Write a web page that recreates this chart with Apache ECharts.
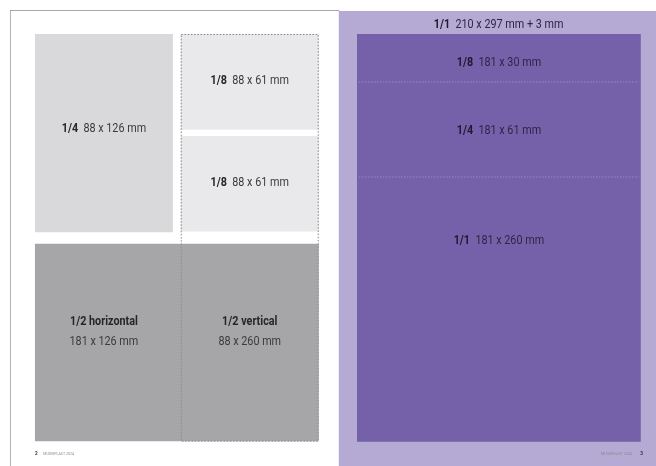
<!DOCTYPE html>
<html>
<head>
<meta charset="utf-8">
<script src="https://cdn.jsdelivr.net/npm/echarts@6/dist/echarts.min.js"></script>
<style>html,body{margin:0;padding:0;background:#fff}#c{width:656px;height:466px}</style>
</head>
<body>
<div id="c"></div>
<script>
// ---- DATA (millimetres; origin = top-left corner of the left-hand page) ----
const pageNames = ['Vasen sivu', 'Oikea sivu'];
const pageX = [0, 209.7];
const pageY = [0, 0.6];
const pageW = [210, 216];
const pageH = [297, 303];

const adLabel = ['1/4', '1/8', '1/8', '1/2 horizontal', '1/2 vertical', '1/1', '1/1', '1/8', '1/4'];
const adSize  = ['88 x 126 mm', '88 x 61 mm', '88 x 61 mm', '181 x 126 mm', '88 x 260 mm',
                 '210 x 297 mm + 3 mm', '181 x 260 mm', '181 x 30 mm', '181 x 61 mm'];
const adX = [15.9, 108.9, 108.9, 15.9, 108.9, 209.7, 221.3, 221.3, 221.3];
const adY = [15.3, 15.3, 80.3, 149.0, 15.3, 0.6, 15.3, 15.3, 45.9];
const adW = [88, 88, 88, 181, 88, 216, 181, 181, 181];
const adH = [126.5, 61, 61, 126, 260, 303, 260, 30.6, 60.6];
// label anchor points (mm)
const labelX = [59.9, 152.9, 152.9, 59.9, 152.9, 311.6, 311.8, 311.8, 311.8];
const labelY = [75.9, 44.8, 109.9, 205.4, 205.4, 9.4, 147.3, 33.5, 76.8];

const footerPage = ['2', '3'];
const footerName = 'MUOVIPLAST 2024';
const footerX = [15.9, 403.7];
const footerY = [283.2, 283.2];

// ---- STYLES (kept apart from the data) ----
const pageLooks = [
  { fill: '#ffffff', stroke: '#8c8c8c' },
  { fill: '#b5aad4', stroke: null }
];
const adLooks = [
  { kind: 'fill', fill: '#d9d9db' },
  { kind: 'fill', fill: '#e9e9eb' },
  { kind: 'fill', fill: '#e9e9eb' },
  { kind: 'fill', fill: '#a6a6a9', twoLine: true },
  { kind: 'dotted', stroke: '#8a8a8a', twoLine: true },
  { kind: 'none', purple: true },
  { kind: 'fill', fill: '#7561a9', purple: true },
  { kind: 'bottomDotted', stroke: '#a193d6', purple: true },
  { kind: 'bottomDotted', stroke: '#a193d6', purple: true }
];

const FONT = 'Roboto, "Noto Sans", sans-serif';
const SQUEEZE = 0.8;

const chart = echarts.init(document.getElementById('c'), null, { renderer: 'canvas' });

function rectOf(api) {
  const p0 = api.coord([api.value(0), api.value(1)]);
  const p1 = api.coord([api.value(0) + api.value(2), api.value(1) + api.value(3)]);
  return { x: p0[0], y: p0[1], width: p1[0] - p0[0], height: p1[1] - p0[1] };
}

const pageData = pageNames.map((n, i) => ({ name: n, value: [pageX[i], pageY[i], pageW[i], pageH[i]] }));
const adData = adLabel.map((n, i) => ({ name: n, value: [adX[i], adY[i], adW[i], adH[i]] }));
const labelData = adLabel.map((n, i) => ({ name: n, value: [labelX[i], labelY[i]] }));
const footerData = footerPage.map((n, i) => ({ name: n, value: [footerX[i], footerY[i]] }));

chart.setOption({
  animation: false,
  backgroundColor: '#ffffff',
  grid: { left: 10, top: 10, width: 646, height: 456, show: false },
  xAxis: { type: 'value', min: 0, max: 412, show: false },
  yAxis: { type: 'value', min: 0, max: 290.8, inverse: true, show: false },
  series: [
    {
      type: 'custom', name: 'sivut', clip: true, silent: true,
      data: pageData,
      renderItem: function (params, api) {
        const r = rectOf(api);
        const lk = pageLooks[params.dataIndex];
        const children = [{ type: 'rect', shape: r, style: { fill: lk.fill } }];
        if (lk.stroke) {
          children.push({
            type: 'polyline',
            shape: { points: [[r.x, r.y + r.height], [r.x, r.y], [r.x + r.width, r.y]] },
            style: { fill: null, stroke: lk.stroke, lineWidth: 1.3 }
          });
        }
        return { type: 'group', children: children };
      }
    },
    {
      type: 'custom', name: 'ilmoitukset', clip: true, silent: true,
      data: adData,
      renderItem: function (params, api) {
        const r = rectOf(api);
        const lk = adLooks[params.dataIndex];
        if (lk.kind === 'fill') {
          return { type: 'rect', shape: r, style: { fill: lk.fill } };
        }
        if (lk.kind === 'dotted') {
          return {
            type: 'rect',
            shape: { x: r.x + 0.5, y: r.y + 0.5, width: r.width - 1, height: r.height - 1 },
            style: { fill: null, stroke: lk.stroke, lineWidth: 1, lineDash: [1.6, 1.6] }
          };
        }
        if (lk.kind === 'bottomDotted') {
          return {
            type: 'line',
            shape: { x1: r.x + 2, y1: r.y + r.height, x2: r.x + r.width - 2, y2: r.y + r.height },
            style: { stroke: lk.stroke, lineWidth: 0.8, lineDash: [1.5, 1.5] }
          };
        }
        return null;
      }
    },
    {
      type: 'custom', name: 'tekstit', clip: false, silent: true,
      data: labelData,
      renderItem: function (params, api) {
        const i = params.dataIndex;
        const p = api.coord([api.value(0), api.value(1)]);
        const lk = adLooks[i];
        const boldC = lk.purple ? '#1f1a30' : '#262626';
        const normC = lk.purple ? '#2e2648' : '#3c3c3e';
        const text = lk.twoLine
          ? '{b|' + adLabel[i] + '}\n{n|' + adSize[i] + '}'
          : '{b|' + adLabel[i] + '}  {n|' + adSize[i] + '}';
        return {
          type: 'text',
          x: p[0], y: p[1],
          scaleX: SQUEEZE,
          style: {
            x: 0, y: 0,
            text: text,
            align: 'center',
            verticalAlign: 'middle',
            rich: {
              b: { fontFamily: FONT, fontWeight: 'bold', fontSize: 13.5, fill: boldC, lineHeight: 20, align: 'center' },
              n: { fontFamily: FONT, fontWeight: 'normal', fontSize: 13.5, fill: normC, lineHeight: 20, align: 'center' }
            }
          }
        };
      }
    },
    {
      type: 'custom', name: 'alatunniste', clip: false, silent: true,
      data: footerData,
      renderItem: function (params, api) {
        const i = params.dataIndex;
        const p = api.coord([api.value(0), api.value(1)]);
        const left = i === 0;
        const text = left
          ? '{b|' + footerPage[i] + '}  {n|' + footerName + '}'
          : '{n|' + footerName + '}   {b|' + footerPage[i] + '}';
        return {
          type: 'text',
          x: p[0], y: p[1],
          scaleX: 0.85,
          style: {
            x: 0, y: 0,
            text: text,
            align: left ? 'left' : 'right',
            verticalAlign: 'middle',
            rich: {
              b: { fontFamily: FONT, fontWeight: 'bold', fontSize: 5.5, fill: '#333333' },
              n: { fontFamily: FONT, fontSize: 4.2, fill: '#8a8a8c' }
            }
          }
        };
      }
    }
  ]
});
</script>
</body>
</html>
